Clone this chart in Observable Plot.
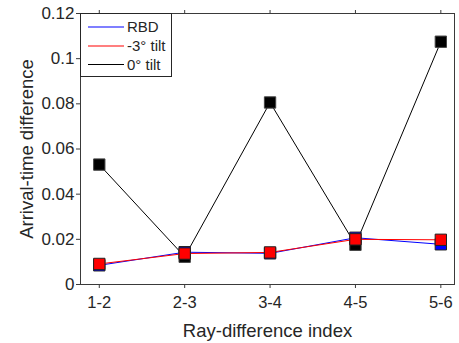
<!DOCTYPE html>
<html>
<head>
<meta charset="utf-8">
<script src="https://cdn.jsdelivr.net/npm/d3@7"></script>
<script src="https://cdn.jsdelivr.net/npm/@observablehq/plot@0.6"></script>
<style>
  html, body { margin: 0; padding: 0; background: #fff; }
  #wrap { position: relative; width: 459px; height: 343px; font-family: "Liberation Sans", Arial, Helvetica, sans-serif; }
</style>
</head>
<body>
<div id="wrap"></div>
<script>
const categories = ["1-2", "2-3", "3-4", "4-5", "5-6"];
const rbd = [0.0085, 0.0143, 0.0138, 0.0207, 0.0178];
const tiltMinus3 = [0.0091, 0.0137, 0.0142, 0.0200, 0.0198];
const tilt0 = [0.0531, 0.0123, 0.0806, 0.0176, 0.1075];
const yTicks = [0, 0.02, 0.04, 0.06, 0.08, 0.1, 0.12];
const seriesNames = ["RBD", "-3° tilt", "0° tilt"];
const seriesColors = ["#0000ff", "#ff0000", "#000000"];

const W = 459, H = 343;
const mL = 80, mR = 5, mT = 13, mB = 59;
const xPos = categories.map((c, i) => i + 1);

function rows(vals) { return vals.map((v, i) => ({x: xPos[i], cat: categories[i], v})); }
const dRBD = rows(rbd), dM3 = rows(tiltMinus3), d0 = rows(tilt0);

const ink = "#262626";
const markR = 6.4;

const plot = Plot.plot({
  width: W, height: H,
  marginLeft: mL, marginRight: mR, marginTop: mT, marginBottom: mB,
  style: {fontFamily: '"Liberation Sans", Arial, Helvetica, sans-serif', fontSize: "16px", color: ink, background: "#fff"},
  x: {type: "linear", domain: [0.78, 5.16]},
  y: {domain: [0, 0.12]},
  marks: [
    Plot.frame({stroke: "#3a3a3a", strokeWidth: 1}),
    Plot.axisX({anchor: "bottom", ticks: xPos, tickFormat: (d) => categories[d - 1], tickSize: 4, tickPadding: 8, label: null, fontSize: 16.5, stroke: "#3a3a3a", fill: ink}),
    Plot.axisX({anchor: "top", ticks: xPos, tickFormat: () => "", tickSize: 4, label: null, stroke: "#3a3a3a"}),
    Plot.axisY({anchor: "left", ticks: yTicks, tickFormat: d3.format("~g"), tickSize: 4, tickPadding: 2, label: null, fontSize: 17, stroke: "#3a3a3a", fill: ink}),
    Plot.text(["Arrival-time difference"], {frameAnchor: "left", dx: -48, rotate: -90, textAnchor: "middle", lineAnchor: "bottom", fontSize: 18.5, fill: ink}),
    Plot.text(["Ray-difference index"], {frameAnchor: "bottom", dy: 52, textAnchor: "middle", lineAnchor: "bottom", fontSize: 18.5, fill: ink}),
    Plot.line(d0, {x: "x", y: "v", stroke: seriesColors[2], strokeWidth: 1}),
    Plot.dot(d0, {x: "x", y: "v", symbol: "square", r: markR, fill: seriesColors[2], stroke: "#444", strokeWidth: 1}),
    Plot.line(dRBD, {x: "x", y: "v", stroke: seriesColors[0], strokeWidth: 1}),
    Plot.dot(dRBD, {x: "x", y: "v", symbol: "square", r: markR, fill: seriesColors[0], stroke: "#222", strokeWidth: 1}),
    Plot.line(dM3, {x: "x", y: "v", stroke: seriesColors[1], strokeWidth: 1}),
    Plot.dot(dM3, {x: "x", y: "v", symbol: "square", r: markR, fill: seriesColors[1], stroke: "#222", strokeWidth: 1})
  ]
});

const wrap = document.getElementById("wrap");
wrap.appendChild(plot);

// Legend (inside the axes, top-left corner)
const legend = d3.select(wrap).append("svg")
  .attr("id", "legend")
  .attr("width", 92).attr("height", 64)
  .style("position", "absolute").style("left", "80px").style("top", "13px");
legend.append("rect")
  .attr("x", 0.5).attr("y", 0.5).attr("width", 91).attr("height", 63)
  .attr("fill", "#fff").attr("stroke", "#262626").attr("stroke-width", 1);
const rowY = [14, 33, 51.5];
seriesNames.forEach((name, i) => {
  legend.append("line")
    .attr("x1", 8).attr("x2", 44).attr("y1", rowY[i]).attr("y2", rowY[i])
    .attr("stroke", seriesColors[i]).attr("stroke-width", 1.2);
  legend.append("text")
    .attr("x", 47).attr("y", rowY[i]).attr("dy", "0.35em")
    .attr("font-family", '"Liberation Sans", Arial, Helvetica, sans-serif')
    .attr("font-size", 15).attr("fill", ink)
    .text(name);
});
</script>
</body>
</html>
